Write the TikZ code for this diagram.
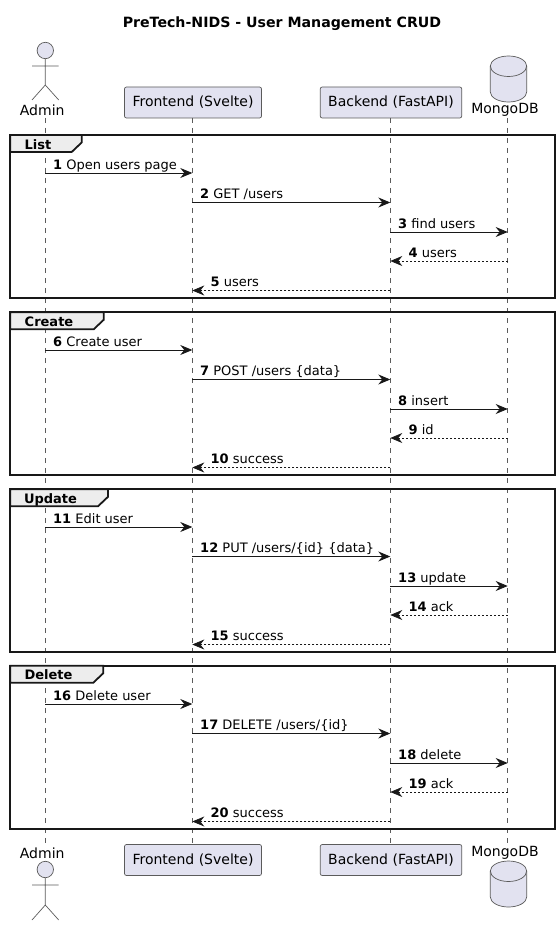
\documentclass[tikz,border=0pt]{standalone}
\usepackage{fontspec}
\setmainfont{DejaVu Sans}
\usetikzlibrary{arrows.meta,shapes.geometric}
\definecolor{partfill}{HTML}{E2E2F0}
\definecolor{partline}{HTML}{5B5B5B}
\definecolor{inkdark}{HTML}{181818}
\tikzset{
	partbox/.style={draw=partline,fill=partfill,rounded corners=2pt,line width=0.7pt,minimum height=31pt,inner sep=0pt,font=\fontsize{14}{16}\selectfont},
	partname/.style={inner sep=0pt,font=\fontsize{14}{16}\selectfont,text=black},
	partshape/.style={draw=partline,fill=partfill,line width=0.7pt},
	partstick/.style={draw=partline,line width=0.7pt},
	lifeline/.style={draw=partline,line width=0.6pt,dash pattern=on 5pt off 5pt},
	frameline/.style={draw=inkdark,line width=1.8pt},
	frametab/.style={inner sep=0pt,anchor=base,font=\bfseries\fontsize{13}{15}\selectfont},
	call/.style={draw=inkdark,line width=0.8pt,-{Stealth[length=12pt,width=10pt,inset=4pt]}},
	reply/.style={draw=inkdark,line width=0.7pt,dash pattern=on 2pt off 2pt,-{Stealth[length=12pt,width=10pt,inset=4pt]}},
	calltext/.style={pos=0,anchor=base west,xshift=7.5pt,yshift=3.6pt,inner sep=0pt,font=\fontsize{13}{15}\selectfont},
	replytext/.style={pos=1,anchor=base west,xshift=18pt,yshift=3.6pt,inner sep=0pt,font=\fontsize{13}{15}\selectfont},
}
\begin{document}
\begin{tikzpicture}[x=1pt,y=-1pt]
	\useasboundingbox (0,0) rectangle (559,925);
	\node[font=\bfseries\fontsize{14.15}{16}\selectfont,inner sep=0pt] (title) at (282,24) {PreTech-NIDS - User Management CRUD};

	% top row
	\node[partname] (admintop) at (42.2,110) {Admin};
	\node[partbox,minimum width=137pt] (fronttop) at (193,102.5) {Frontend (Svelte)};
	\node[partbox,minimum width=141.5pt] (backtop) at (391,102.5) {Backend (FastAPI)};
	\node[partname] (mongotop) at (505,110) {MongoDB};
	\draw[partshape] (45.3,50.5) circle (8.2);
	\draw[partstick] (45.3,59) -- (45.3,85) (32,66) -- (58.7,66) (32,100) -- (45.3,85) -- (58.7,100);
	\draw[partshape] (490.3,66) arc[start angle=180,end angle=360,x radius=18.2,y radius=10] -- (526.7,92) arc[start angle=0,end angle=180,x radius=18.2,y radius=10] -- cycle;
	\draw[partstick] (490.3,66) arc[start angle=180,end angle=0,x radius=18.2,y radius=10.5];

	% bottom row
	\node[partname] (adminbot) at (42.2,853) {Admin};
	\node[partbox,minimum width=137pt] (frontbot) at (193,860) {Frontend (Svelte)};
	\node[partbox,minimum width=141.5pt] (backbot) at (391,860) {Backend (FastAPI)};
	\node[partname] (mongobot) at (505,853) {MongoDB};
	\draw[partshape] (45.3,869.5) circle (8.2);
	\draw[partstick] (45.3,878) -- (45.3,905) (32,885) -- (58.7,885) (32,920) -- (45.3,905) -- (58.7,920);
	\draw[partshape] (490.3,871) arc[start angle=180,end angle=360,x radius=18.2,y radius=10] -- (526.7,897) arc[start angle=0,end angle=180,x radius=18.2,y radius=10] -- cycle;
	\draw[partstick] (490.3,871) arc[start angle=180,end angle=0,x radius=18.2,y radius=10.5];

	% lifelines
	\coordinate (adminup) at (45.3,118);
	\coordinate (admindown) at (45.3,844);
	\coordinate (frontup) at (192.3,118);
	\coordinate (frontdown) at (192.3,844);
	\coordinate (backup) at (390.3,118);
	\coordinate (backdown) at (390.3,844);
	\coordinate (mongoup) at (507.7,118);
	\coordinate (mongodown) at (507.7,844);
	\draw[lifeline] (adminup) -- (admindown);
	\draw[lifeline] (frontup) -- (frontdown);
	\draw[lifeline] (backup) -- (backdown);
	\draw[lifeline] (mongoup) -- (mongodown);

	% frames
	\foreach \fname/\ftop/\ftab/\ftx in {List/135/81.7/38,Create/312.3/103.7/49,Update/489.3/108/50.5,Delete/665.7/103.3/48.5}{
		\draw[frameline] (10.3,\ftop) rectangle (555,\ftop+163);
		\draw[frameline,fill=black!7] (10.3,\ftop) -- (\ftab,\ftop) -- (\ftab,\ftop+7.5) -- (\ftab-10,\ftop+17) -- (10.3,\ftop+17) -- cycle;
		\node[frametab] (tab\fname) at (\ftx,\ftop+14.2) {\fname};
	}

	% message ends
	\foreach \n/\y in {1/173,2/202.5,3/232,4/261,5/290.5,6/350,7/379.5,8/409,9/438,10/467.5,11/527,12/556.5,13/586,14/615,15/644.5,16/704,17/733.5,18/763,19/792,20/821.5}{
		\coordinate (a\n) at (45.3,\y);
		\coordinate (f\n) at (192.3,\y);
		\coordinate (b\n) at (390.3,\y);
		\coordinate (m\n) at (507.7,\y);
	}

	\draw[call] (a1) -- (f1) node[calltext] (msg1) {\textbf{1} Open users page};
	\draw[call] (f2) -- (b2) node[calltext] (msg2) {\textbf{2} GET /users};
	\draw[call] (b3) -- (m3) node[calltext] (msg3) {\textbf{3} find users};
	\draw[reply] (m4) -- (b4) node[replytext] (msg4) {\textbf{4} users};
	\draw[reply] (b5) -- (f5) node[replytext] (msg5) {\textbf{5} users};

	\draw[call] (a6) -- (f6) node[calltext] (msg6) {\textbf{6} Create user};
	\draw[call] (f7) -- (b7) node[calltext] (msg7) {\textbf{7} POST /users \{data\}};
	\draw[call] (b8) -- (m8) node[calltext] (msg8) {\textbf{8} insert};
	\draw[reply] (m9) -- (b9) node[replytext] (msg9) {\textbf{9} id};
	\draw[reply] (b10) -- (f10) node[replytext] (msg10) {\textbf{10} success};

	\draw[call] (a11) -- (f11) node[calltext] (msg11) {\textbf{11} Edit user};
	\draw[call] (f12) -- (b12) node[calltext] (msg12) {\textbf{12} PUT /users/\{id\} \{data\}};
	\draw[call] (b13) -- (m13) node[calltext] (msg13) {\textbf{13} update};
	\draw[reply] (m14) -- (b14) node[replytext] (msg14) {\textbf{14} ack};
	\draw[reply] (b15) -- (f15) node[replytext] (msg15) {\textbf{15} success};

	\draw[call] (a16) -- (f16) node[calltext] (msg16) {\textbf{16} Delete user};
	\draw[call] (f17) -- (b17) node[calltext] (msg17) {\textbf{17} DELETE /users/\{id\}};
	\draw[call] (b18) -- (m18) node[calltext] (msg18) {\textbf{18} delete};
	\draw[reply] (m19) -- (b19) node[replytext] (msg19) {\textbf{19} ack};
	\draw[reply] (b20) -- (f20) node[replytext] (msg20) {\textbf{20} success};
\end{tikzpicture}
\end{document}
